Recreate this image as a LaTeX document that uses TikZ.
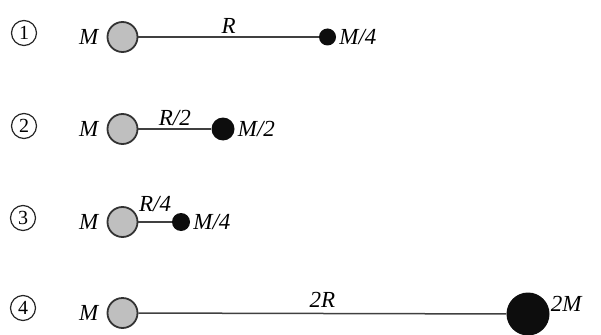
\documentclass[tikz,border=0pt]{standalone}
\usepackage{fontspec}
\setmainfont{Liberation Serif}
\begin{document}
\begin{tikzpicture}[x=1pt, y=-1pt,
		big/.style={circle, draw=black!80, line width=1.8pt, fill=black!25, minimum size=30pt, inner sep=0pt},
		dot/.style={circle, fill=black!95, inner sep=0pt},
		num/.style={circle, draw=black!85, line width=1.2pt, inner sep=0pt, minimum size=25pt, font=\fontsize{20}{20}\selectfont},
		lbl/.style={font=\fontsize{23}{26}\selectfont\itshape, inner sep=2pt},
		rod/.style={draw=black!75, line width=1.5pt}]
	
	\useasboundingbox (0,0) rectangle (601,334);
	
	% 1. Hai vật cách nhau R
	\node[num] (n1) at (24,33) {1};
	\node[big] (A1) at (122.5,37) {};
	\node[dot, minimum size=17pt] (B1) at (327.5,37) {};
	\draw[rod] (A1) -- (B1) node[midway, above=1pt, lbl] (r1) {R};
	\node[lbl, left=6pt] (mA1) at (A1.west) {M};
	\node[lbl, right=1pt] (mB1) at (B1.east) {M/4};
	
	% 2. Hai vật cách nhau R/2
	\node[num] (n2) at (24,126) {2};
	\node[big] (A2) at (122.5,129) {};
	\node[dot, minimum size=23pt] (B2) at (223,129) {};
	\draw[rod] (A2) -- (B2) node[midway, above=1pt, lbl] (r2) {R/2};
	\node[lbl, left=6pt] (mA2) at (A2.west) {M};
	\node[lbl, right=1pt] (mB2) at (B2.east) {M/2};
	
	% 3. Hai vật cách nhau R/4
	\node[num] (n3) at (23,218) {3};
	\node[big] (A3) at (122.5,222) {};
	\node[dot, minimum size=18pt] (B3) at (181,222) {};
	\draw[rod] (A3) -- (B3) node[midway, above=8pt, lbl] (r3) {R/4};
	\node[lbl, left=6pt] (mA3) at (A3.west) {M};
	\node[lbl, right=1pt] (mB3) at (B3.east) {M/4};
	
	% 4. Hai vật cách nhau 2R
	\node[num] (n4) at (23,308) {4};
	\node[big] (A4) at (122.5,313) {};
	\node[dot, minimum size=43pt] (B4) at (528,314) {};
	\draw[rod] (A4) -- (B4) node[midway, above=3pt, lbl] (r4) {2R};
	\node[lbl, left=6pt] (mA4) at (A4.west) {M};
	\node[lbl, right=-1pt, yshift=10pt] (mB4) at (B4.east) {2M};
	
\end{tikzpicture}
\end{document}
